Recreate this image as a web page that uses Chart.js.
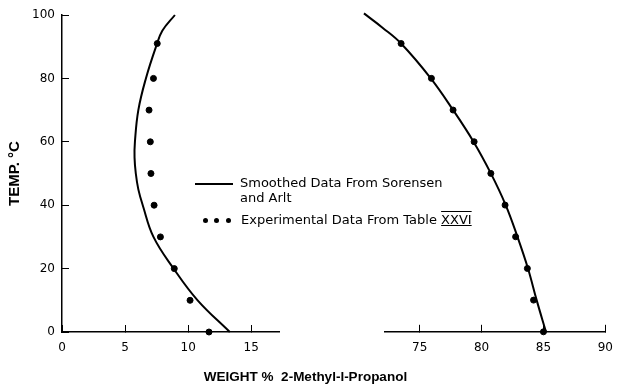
<!DOCTYPE html>
<html>
<head>
<meta charset="utf-8">
<script src="https://cdn.jsdelivr.net/npm/chart.js@4/dist/chart.umd.min.js"></script>
<style>
  html, body { margin: 0; padding: 0; background: #fff; }
  #wrap { position: relative; width: 629px; height: 385px; overflow: hidden; }
  #wrap canvas { position: absolute; left: 0; top: 0; }
  .lg { position: absolute; font-family: "DejaVu Sans", sans-serif; font-size: 13px; line-height: 14.5px; color: #000; white-space: nowrap; }
  .lg-line { position: absolute; height: 0; border-top: 2px solid #000; }
  .lg-dot { position: absolute; width: 5px; height: 5px; border-radius: 50%; background: #000; }
  .rn { text-decoration: underline overline; }
</style>
</head>
<body>
<div id="wrap">
  <canvas id="leftChart" width="629" height="385"></canvas>
  <canvas id="rightChart" width="629" height="385"></canvas>
  <div class="lg-line" style="left:195px;top:183px;width:38px;"></div>
  <div class="lg" style="left:240px;top:176px;">Smoothed Data From Sorensen<br>and Arlt</div>
  <div class="lg-dot" style="left:203px;top:218px;"></div>
  <div class="lg-dot" style="left:214px;top:218px;"></div>
  <div class="lg-dot" style="left:226px;top:218px;"></div>
  <div class="lg" style="left:241px;top:213px;">Experimental Data From Table <span class="rn">XXVI</span></div>
</div>
<script>
// --- Data ---
const expTemps = [0, 10, 20, 30, 40, 50, 60, 70, 80, 91];
const expWaterRich = [11.65, 10.15, 8.9, 7.8, 7.3, 7.05, 7.0, 6.9, 7.25, 7.55];
const expAlcoholRich = [85.0, 84.2, 83.7, 82.75, 81.9, 80.75, 79.4, 77.7, 75.95, 73.5];

const smoothLowTemps = [0, 10, 20, 30, 40, 45, 50, 55, 60, 70, 80, 90, 95, 100];
const smoothLowWt = [13.3, 10.75, 8.85, 7.25, 6.4, 6.05, 5.85, 5.75, 5.78, 6.05, 6.65, 7.45, 7.95, 8.95];
const smoothHighTemps = [0, 10, 20, 30, 40, 50, 60, 70, 80, 91, 96, 100.5];
const smoothHighWt = [85.2, 84.45, 83.75, 82.9, 81.95, 80.75, 79.35, 77.7, 75.9, 73.5, 72.0, 70.5];

const leftTicks = [0, 5, 10, 15];
const rightTicks = [75, 80, 85, 90];
const yTicks = [0, 20, 40, 60, 80, 100];

Chart.defaults.font.family = 'DejaVu Sans';
Chart.defaults.font.size = 12;
Chart.defaults.color = '#000';

const toPoints = (xs, ys) => xs.map((x, i) => ({ x: x, y: ys[i] }));

const smoothStyle = {
    showLine: true,
    borderColor: '#000',
    borderWidth: 2,
    pointRadius: 0,
    tension: 0.4,
    clip: false
};
const expStyle = {
    showLine: false,
    pointRadius: 3,
    pointBackgroundColor: '#000',
    pointBorderColor: '#000',
    clip: false
};

// force the exact tick values
const setTicks = (list) => (scale) => {
    scale.ticks = list.map(v => ({ value: v }));
};

const axisGrid = { drawOnChartArea: false, tickLength: -7, color: '#000', lineWidth: 1 };
const axisBorder = { display: true, color: '#000', width: 1.5 };

// Left panel (water-rich phase), carries the y axis
new Chart(document.getElementById('leftChart'), {
    type: 'scatter',
    data: {
        datasets: [
            Object.assign({ label: 'Smoothed', data: toPoints(smoothLowWt, smoothLowTemps) }, smoothStyle),
            Object.assign({ label: 'Experimental', data: toPoints(expWaterRich, expTemps) }, expStyle)
        ]
    },
    options: {
        responsive: false,
        animation: false,
        layout: { padding: { left: 0, top: 15, right: 350, bottom: 0 } },
        plugins: { legend: { display: false }, tooltip: { enabled: false } },
        scales: {
            x: {
                type: 'linear', min: 0, max: 17.2,
                afterBuildTicks: setTicks(leftTicks),
                afterFit: (s) => { s.height = 53; },
                grid: axisGrid, border: axisBorder,
                ticks: { padding: 16, maxRotation: 0 }
            },
            y: {
                type: 'linear', min: 0, max: 100,
                afterBuildTicks: setTicks(yTicks),
                afterFit: (s) => { s.width = 62; s.paddingTop = 0; s.paddingBottom = 0; },
                grid: axisGrid, border: axisBorder,
                ticks: { padding: 14 },
                title: {
                    display: true, text: 'TEMP. °C',
                    font: { family: 'Liberation Sans', size: 15, weight: 'bold' },
                    padding: { top: 6, bottom: 0 }
                }
            }
        }
    }
});

// Right panel (alcohol-rich phase), carries the shared x title
new Chart(document.getElementById('rightChart'), {
    type: 'scatter',
    data: {
        datasets: [
            Object.assign({ label: 'Smoothed', data: toPoints(smoothHighWt, smoothHighTemps) }, smoothStyle),
            Object.assign({ label: 'Experimental', data: toPoints(expAlcoholRich, expTemps) }, expStyle)
        ]
    },
    options: {
        responsive: false,
        animation: false,
        layout: { padding: { left: 0, top: 15, right: 18, bottom: 0 } },
        plugins: {
            legend: { display: false },
            tooltip: { enabled: false },
            title: {
                display: true, position: 'bottom',
                text: 'WEIGHT %  2-Methyl-l-Propanol',
                font: { family: 'Liberation Sans', size: 13.5, weight: 'bold' },
                padding: { top: 2, bottom: 0 }
            }
        },
        scales: {
            x: {
                type: 'linear', min: 72.2, max: 90,
                afterBuildTicks: setTicks(rightTicks),
                afterFit: (s) => { s.height = 35; },
                grid: axisGrid, border: axisBorder,
                ticks: { padding: 16, maxRotation: 0 }
            },
            y: {
                // invisible spacer axis: pushes the plot area to the right half
                type: 'linear', min: 0, max: 100,
                afterFit: (s) => { s.width = 385; },
                grid: { display: false },
                border: { display: false },
                ticks: { display: false }
            }
        }
    }
});
</script>
</body>
</html>
